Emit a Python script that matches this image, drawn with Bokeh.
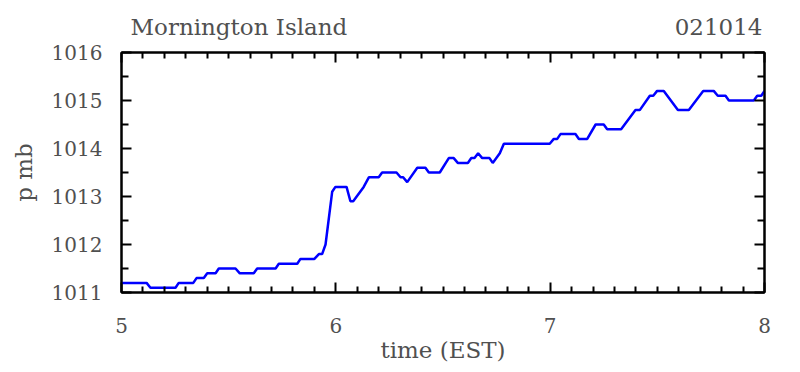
import numpy as np
from bokeh.plotting import figure
from bokeh.layouts import column
from bokeh.models import LinearAxis, FixedTicker, Range1d
from bokeh.core.properties import value
from bokeh.embed import file_html
from bokeh.resources import INLINE

# ---- data ----
time_day = [5.000, 5.117, 5.135, 5.252, 5.267, 5.335, 5.350, 5.384, 5.400, 5.439,
            5.454, 5.532, 5.552, 5.617, 5.633, 5.719, 5.734, 5.820, 5.835, 5.900,
            5.921, 5.936, 5.952, 5.983, 5.998, 6.050, 6.068, 6.081, 6.130, 6.154,
            6.200, 6.216, 6.283, 6.302, 6.314, 6.333, 6.380, 6.418, 6.434, 6.485,
            6.527, 6.550, 6.569, 6.616, 6.632, 6.647, 6.664, 6.683, 6.717, 6.732,
            6.765, 6.784, 6.998, 7.017, 7.033, 7.048, 7.118, 7.134, 7.173, 7.212,
            7.250, 7.266, 7.331, 7.398, 7.418, 7.465, 7.481, 7.499, 7.530, 7.596,
            7.647, 7.714, 7.763, 7.782, 7.818, 7.834, 7.950, 7.966, 7.985, 8.000]
pressure_mb = [1011.2, 1011.2, 1011.1, 1011.1, 1011.2, 1011.2, 1011.3, 1011.3, 1011.4, 1011.4,
               1011.5, 1011.5, 1011.4, 1011.4, 1011.5, 1011.5, 1011.6, 1011.6, 1011.7, 1011.7,
               1011.8, 1011.8, 1012.0, 1013.1, 1013.2, 1013.2, 1012.9, 1012.9, 1013.2, 1013.4,
               1013.4, 1013.5, 1013.5, 1013.4, 1013.4, 1013.3, 1013.6, 1013.6, 1013.5, 1013.5,
               1013.8, 1013.8, 1013.7, 1013.7, 1013.8, 1013.8, 1013.9, 1013.8, 1013.8, 1013.7,
               1013.9, 1014.1, 1014.1, 1014.2, 1014.2, 1014.3, 1014.3, 1014.2, 1014.2, 1014.5,
               1014.5, 1014.4, 1014.4, 1014.8, 1014.8, 1015.1, 1015.1, 1015.2, 1015.2, 1014.8,
               1014.8, 1015.2, 1015.2, 1015.1, 1015.1, 1015.0, 1015.0, 1015.1, 1015.1, 1015.2]

x_ticks = [5, 6, 7, 8]
y_ticks = [1011, 1012, 1013, 1014, 1015, 1016]

title_left = "Mornington Island"
title_right = "021014"
x_label = "time (EST)"
y_label = "p mb"

FONT = "DejaVu Serif"
FSIZE = "20px"
BIG = "23px"
TCOL = "#505050"

x_minor = [round(v, 1) for v in np.arange(5.1, 8.0, 0.1) if abs(v - round(v)) > 1e-6]
y_minor = [1011.5, 1012.5, 1013.5, 1014.5, 1015.5]

W = 800
HEAD_H = 40
MAIN_H = 332
BL, BR = 121, 36

p = figure(width=W, height=MAIN_H, output_backend="svg", toolbar_location=None,
           x_range=Range1d(5, 8), y_range=Range1d(1011, 1016),
           x_axis_location=None, y_axis_location=None,
           min_border_left=BL, min_border_right=BR, min_border_top=12, min_border_bottom=80)
p.background_fill_color = "white"
p.border_fill_color = "white"
p.outline_line_color = "black"
p.outline_line_width = 2
p.xgrid.visible = False
p.ygrid.visible = False

def style_axis(ax, major_in, minor_in, show_labels):
    ax.axis_line_color = "black"
    ax.axis_line_width = 2
    ax.major_tick_in = major_in
    ax.major_tick_out = 0
    ax.minor_tick_in = minor_in
    ax.minor_tick_out = 0
    ax.major_tick_line_width = 2
    ax.minor_tick_line_width = 2
    ax.major_tick_line_color = "black"
    ax.minor_tick_line_color = "black"
    if show_labels:
        ax.major_label_text_font = FONT
        ax.major_label_text_font_size = FSIZE
        ax.major_label_text_color = TCOL
        ax.axis_label_text_font = FONT
        ax.axis_label_text_font_size = BIG
        ax.axis_label_text_color = TCOL
        ax.axis_label_text_font_style = "normal"
    else:
        ax.major_label_text_font_size = "0px"
        ax.major_label_text_color = None
        ax.major_label_standoff = 0

xt = FixedTicker(ticks=x_ticks, minor_ticks=x_minor)
yt = FixedTicker(ticks=y_ticks, minor_ticks=y_minor)

ax_bottom = LinearAxis(ticker=xt, axis_label=x_label)
style_axis(ax_bottom, 10, 6, True)
ax_bottom.major_label_standoff = 25
ax_bottom.major_label_text_align = "left"
ax_bottom.axis_label_standoff = 1
p.add_layout(ax_bottom, "below")

ax_top = LinearAxis(ticker=xt)
style_axis(ax_top, 10, 6, False)
p.add_layout(ax_top, "above")

ax_left = LinearAxis(ticker=yt, axis_label=y_label)
style_axis(ax_left, 10, 7, True)
ax_left.major_label_standoff = 19
ax_left.axis_label_standoff = 12
p.add_layout(ax_left, "left")

ax_right = LinearAxis(ticker=yt)
style_axis(ax_right, 10, 7, False)
p.add_layout(ax_right, "right")

p.line(time_day, pressure_mb, line_color="#0000ff", line_width=2.5)

# header strip carrying the two title texts, sharing the x scale of the plot
head = figure(width=W, height=HEAD_H, output_backend="svg", toolbar_location=None,
              x_range=p.x_range, y_range=Range1d(0, HEAD_H),
              x_axis_location=None, y_axis_location=None,
              min_border_left=BL, min_border_right=BR, min_border_top=0, min_border_bottom=0)
head.outline_line_color = None
head.background_fill_color = "white"
head.border_fill_color = "white"
head.xgrid.visible = False
head.ygrid.visible = False
head.text(x=[x_ticks[0]], y=[14], text=[title_left], x_offset=9,
          text_font=value(FONT), text_font_size=BIG, text_color=TCOL,
          text_align="left", text_baseline="alphabetic")
head.text(x=[x_ticks[-1]], y=[14], text=[title_right], x_offset=-2,
          text_font=value(FONT), text_font_size=BIG, text_color=TCOL,
          text_align="right", text_baseline="alphabetic")

layout = column(head, p, spacing=0)
open("out.html", "w").write(file_html(layout, INLINE))
